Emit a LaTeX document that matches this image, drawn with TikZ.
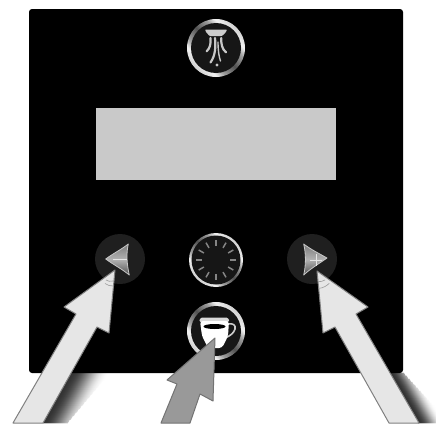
\documentclass[tikz,border=0pt]{standalone}
\usepackage{xcolor}
\definecolor{buttonface}{HTML}{161616}
\definecolor{arrowlight}{HTML}{E6E6E6}
\definecolor{arrowdark}{HTML}{999999}
\definecolor{displaygray}{HTML}{C9C9C9}
\usepackage{tikz}
\usetikzlibrary{positioning,calc}
\pgfdeclarehorizontalshading{ringmetal}{100bp}{color(0bp)=(black!60); color(33bp)=(black!5); color(39bp)=(black!38); color(50bp)=(black!68); color(61bp)=(black!38); color(67bp)=(black!5); color(100bp)=(black!60)}

\begin{document}
\begin{tikzpicture}[x=1pt, y=-1pt, line join=round, ring/.style = {circle, minimum size=58pt, inner sep=0pt, shading=ringmetal, shading angle=45}, face/.style = {circle, fill=buttonface, minimum size=49pt, inner sep=0pt}, halo/.style = {circle, fill=black!88, minimum size=50pt, inner sep=0pt}, pointer/.style = {draw=black!50, line width=1pt, fill=arrowlight}, tick/.style = {line width=1.5pt, black!48}, glyph/.style = {line width=2.2pt, line cap=round, black!22}, arrowmark/.style = {line width=0.6pt, black!40}, metal/.style = {draw=black!22, line width=0.8pt, top color=black!52, bottom color=black!68, middle color=black!30}]

\useasboundingbox (0,0) rectangle (436,423);
\fill[white] (0,0) rectangle (436,423);

% shadows of the two light arrows
\foreach \d in {38,37,...,0}{
  \pgfmathsetmacro\depth{80*cos(90*\d/38)^2}
  \pgfmathsetmacro\yend{423-max(0,\d-24)*50/14}
  \draw[line width=1.6pt, black!\depth] ({97+\d},327) -- ({97+\d-(\yend-327)*54/96},\yend);
}
\foreach \d in {25,24,...,0}{
  \pgfmathsetmacro\depth{80*cos(90*\d/25)^2}
  \pgfmathsetmacro\ystart{373+3*max(0,\d-13)}
  \draw[line width=1.6pt, black!\depth] ({356+\d+(\ystart-314)*63/109},\ystart) -- ({419+\d},423);
}

\fill[black, rounded corners=3pt] (29,9) rectangle (403,373);
\node[fill=displaygray, minimum width=240pt, minimum height=72pt, inner sep=0pt] (display) at (216,144) {};

% top button
\node[ring] (steam) at (216,48) {};
\node[face, minimum size=50pt] (steamface) at (steam) {};
\fill[black!20, rounded corners=0.8pt] (205,29.5) -- (227,29.5) -- (226,32) -- (222,36) -- (209.5,36) -- (206,32) -- cycle;
\draw[glyph] (210.5,38) .. controls (211,44) and (210,48) .. (206.7,51.3);
\draw[glyph] (215,38) .. controls (216,48) and (215,56) .. (210.5,62.5);
\draw[glyph] (221.3,38) .. controls (221,44) and (222,49) .. (226,52.3);
\draw[glyph, line width=1.4pt] (218,42) .. controls (218,50) and (219,57) .. (220.5,61);
\fill[black!22] (217,65) circle (1.6pt);

% middle button
\node[ring, minimum size=54pt] (spin) at (216,260) {};
\node[face, minimum size=49pt] (spinface) at (spin) {};
\foreach \a in {0,30,...,330}
  \draw[tick] (spin.center) ++(\a:14pt) -- ++(\a:6pt);

% left and right buttons
\node[halo] (minus) at (120,259) {};
\shadedraw[metal] (105.7,259) .. controls (114,253) and (122,249) .. (128.3,244) .. controls (126,254) and (127,265) .. (129.3,275) .. controls (122,269) and (114,265) .. cycle;
\draw[line width=1pt, black!10] (113,259) -- (127,259);

\node[halo] (plus) at (312,259) {};
\shadedraw[metal] (303.7,244) .. controls (310,249) and (320,254) .. (327,258) .. controls (320,263) and (310,269) .. (303.7,275) .. controls (306,265) and (306,254) .. cycle;
\draw[line width=1pt, black!10] (310,260) -- (322,260) (316,254) -- (316,266);

% bottom button
\node[ring] (cup) at (216,331) {};
\node[face, minimum size=50pt] (cupface) at (cup) {};
\draw[line width=1.6pt, black!20] (228,324) .. controls (233,323) and (236,325) .. (235,329) .. controls (234,333) and (230,336) .. (225,338);
\fill[black!15, rounded corners=1.5pt] (199,322) -- (200.5,317.5) -- (228,317.5) -- (229.5,322) -- cycle;
\fill[white, rounded corners=3pt] (200,321) -- (229,321) -- (228,336) -- (222,348) -- (208,348) -- (202,336) -- cycle;
\fill[black] (214.5,326.5) ellipse (11pt and 2.5pt);

% arrows
\draw[pointer] (115,270) -- (109,333) -- (97,327) -- (43,423) -- (13,423) -- (76,314) -- (64,307) -- cycle;
\draw[arrowmark] (106,280) .. controls (108,281.5) and (110,281.5) .. (113,281);
\draw[arrowmark] (105,283.5) .. controls (108,285.5) and (110,286) .. (113.3,286);

\draw[pointer] (317,271) -- (368,307) -- (356,314) -- (419,423) -- (389,423) -- (335,327) -- (323,333) -- cycle;
\draw[arrowmark] (318.3,281.7) .. controls (320.5,282) and (323,281) .. (325,280);
\draw[arrowmark] (319.3,288.3) .. controls (323,288) and (326.5,286) .. (329.3,283.3);

\draw[pointer, fill=arrowdark, draw=black!55] (215,338) -- (213,401) -- (200,394) -- (190,423) -- (161,423) -- (177,384) -- (167,380) -- cycle;
\end{tikzpicture}
\end{document}
